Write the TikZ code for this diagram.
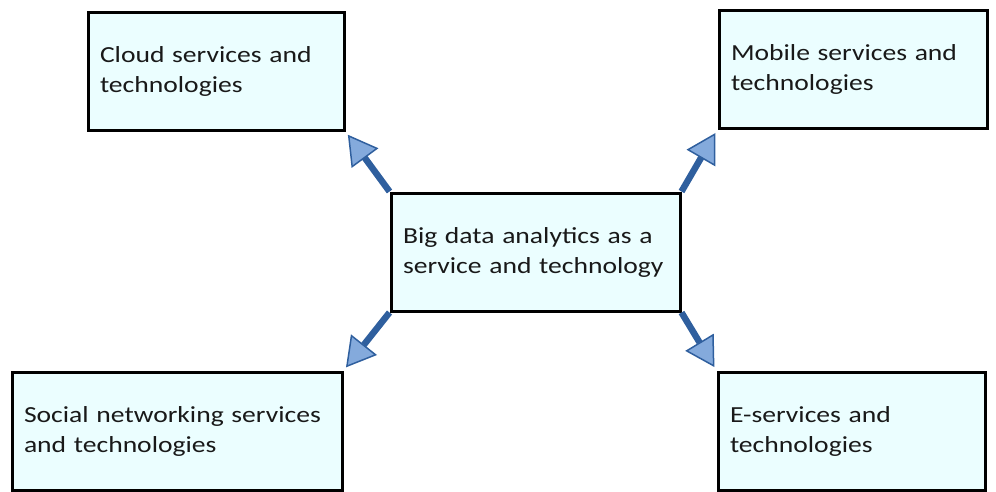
\documentclass[tikz,border=0pt]{standalone}
\usepackage{fontspec}
\setmainfont[FakeStretch=1.2, WordSpace=0.75]{Carlito}
\usetikzlibrary{arrows.meta}
\definecolor{boxfill}{HTML}{EBFEFF}
\definecolor{shaft}{HTML}{2F5F9E}
\definecolor{headfill}{HTML}{84AADC}
\tikzset{
  box/.style={draw=black, line width=3pt, fill=boxfill, rectangle, inner xsep=12pt, inner ysep=0pt,
    align=left, font=\fontsize{23}{30}\selectfont, text=black!90},
  link/.style={draw=shaft, line width=6.5pt, shorten >=4pt,
    -{Triangle[length=29pt, width=33pt, fill=headfill, line width=1.5pt]}}
}
\begin{document}
\begin{tikzpicture}[x=1pt,y=-1pt]
\useasboundingbox (0,0) rectangle (996,491);
\node[box, minimum width=256pt, minimum height=118pt, text width=232pt] (cloud) at (216,71) {Cloud services and\\technologies};
\node[box, minimum width=268pt, minimum height=118pt, text width=244pt] (mobile) at (853,69) {Mobile services and\\technologies};
\node[box, minimum width=289pt, minimum height=118pt, text width=265pt] (center) at (535.5,252) {Big data analytics as a\\service and technology};
\node[box, minimum width=330pt, minimum height=118pt, text width=306pt] (social) at (177,431) {Social networking services\\and technologies};
\node[box, minimum width=267pt, minimum height=118pt, text width=243pt] (eserv) at (851.5,431) {E-services and\\technologies};
\draw[link] (center.north west) -- (cloud.south east);
\draw[link] (center.north east) -- (mobile.south west);
\draw[link] (center.south west) -- (social.north east);
\draw[link] (center.south east) -- (eserv.north west);
\end{tikzpicture}
\end{document}
